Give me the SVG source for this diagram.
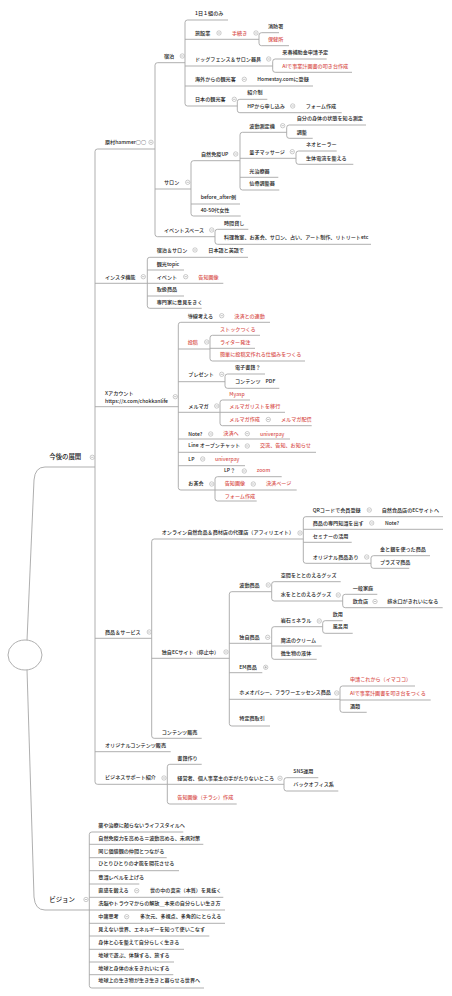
<svg xmlns="http://www.w3.org/2000/svg" width="452" height="996" viewBox="0 0 452 996">
<style>
.t{font-family:"Noto Sans CJK JP","Noto Sans",sans-serif;font-size:5.1px;font-weight:500;fill:#222}
.big{font-size:6.4px}
.r{fill:#d9534f}
.u,.k{fill:none;stroke:#a6a6a6;stroke-width:0.9}
.rt{fill:#fff;stroke:#a6a6a6;stroke-width:0.9}
</style>
<defs>
<g id="mi"><circle r="2.2" fill="#fff" stroke="#999" stroke-width="0.5"/><path d="M-1.2 0H1.2" stroke="#888" stroke-width="0.5"/></g>
<g id="pl"><circle r="2.2" fill="#fff" stroke="#999" stroke-width="0.5"/><path d="M-1.2 0H1.2M0 -1.2V1.2" stroke="#888" stroke-width="0.5"/></g>
</defs>
<rect width="452" height="996" fill="#fff"/>

<g id="connectors" class="k">
<path d="M27 640.5L34 480Q35 467 45 467"/>
<path d="M27 669.5L34 897Q35 910 45 910"/>
<path d="M97.5 149Q95 149 95 151.5V781.8Q95 784.3 97.5 784.3"/>
<path d="M157.5 62.7Q155 62.7 155 65.2V234.2Q155 236.7 157.5 236.7"/>
<path d="M187.5 20Q185 20 185 22.5V103.5Q185 106 187.5 106"/>
<path d="M261.5 32.7Q259 32.7 259 35.2V43.2Q259 45.7 261.5 45.7"/>
<path d="M275.2 59Q272.7 59 272.7 61.5V69.8Q272.7 72.3 275.2 72.3"/>
<path d="M239.8 99.3Q237.3 99.3 237.3 101.8V110.2Q237.3 112.7 239.8 112.7"/>
<path d="M193.5 160.7Q191 160.7 191 163.2V213.5Q191 216 193.5 216"/>
<path d="M242.5 132.3Q240 132.3 240 134.8V187.5Q240 190 242.5 190"/>
<path d="M289.2 125Q286.7 125 286.7 127.5V135.8Q286.7 138.3 289.2 138.3"/>
<path d="M298.5 151Q296 151 296 153.5V161.8Q296 164.3 298.5 164.3"/>
<path d="M217.5 229.3Q215 229.3 215 231.8V241.8Q215 244.3 217.5 244.3"/>
<path d="M149.8 257.3Q147.3 257.3 147.3 259.8V305.8Q147.3 308.3 149.8 308.3"/>
<path d="M180.8 322.3Q178.3 322.3 178.3 324.8V487.5Q178.3 490 180.8 490"/>
<path d="M212.5 335.3Q210 335.3 210 337.8V358.5Q210 361 212.5 361"/>
<path d="M227.5 374Q225 374 225 376.5V385.8Q225 388.3 227.5 388.3"/>
<path d="M222.5 400Q220 400 220 402.5V423.2Q220 425.7 222.5 425.7"/>
<path d="M217.5 476.7Q215 476.7 215 479.2V498.5Q215 501 217.5 501"/>
<path d="M154.2 539Q151.7 539 151.7 541.5V735.8Q151.7 738.3 154.2 738.3"/>
<path d="M305.8 516.7Q303.3 516.7 303.3 519.2V560.8Q303.3 563.3 305.8 563.3"/>
<path d="M373.5 555.7Q371 555.7 371 558.2V565.8Q371 568.3 373.5 568.3"/>
<path d="M231.8 591.7Q229.3 591.7 229.3 594.2V723.5Q229.3 726 231.8 726"/>
<path d="M274.2 581.7Q271.7 581.7 271.7 584.2V598.5Q271.7 601 274.2 601"/>
<path d="M345.2 594.3Q342.7 594.3 342.7 596.8V605.2Q342.7 607.7 345.2 607.7"/>
<path d="M274.2 626.7Q271.7 626.7 271.7 629.2V656.8Q271.7 659.3 274.2 659.3"/>
<path d="M325.2 620.7Q322.7 620.7 322.7 623.2V630.8Q322.7 633.3 325.2 633.3"/>
<path d="M342.5 686Q340 686 340 688.5V709.8Q340 712.3 342.5 712.3"/>
<path d="M169.8 764.3Q167.3 764.3 167.3 766.8V801.5Q167.3 804 169.8 804"/>
<path d="M286.5 777.7Q284 777.7 284 780.2V788.5Q284 791 286.5 791"/>
<path d="M91.8 832Q89.3 832 89.3 834.5V985.5Q89.3 988 91.8 988"/>
</g>

<g id="root"><ellipse class="rt" cx="25" cy="655" rx="17" ry="15"/></g>

<g id="n-kongo"><path class="u" d="M45 467H95"/><text class="t big" x="49.3" y="458.6">今後の展開</text><use href="#mi" x="92.3" y="457.3"/></g>
<g id="n-haramura"><path class="u" d="M97.5 149H155"/><text class="t" x="105" y="144.2">原村hammer○○</text><use href="#mi" x="151" y="142.3"/></g>
<g id="n-shukuhaku"><path class="u" d="M157.5 62.7H185"/><text class="t" x="164" y="57.9">宿泊</text><use href="#mi" x="182.3" y="56"/></g>
<g id="n-1kumi"><path class="u" d="M187.5 20H228"/><text class="t" x="195" y="15.2">1日１組のみ</text></g>
<g id="n-ryokan"><path class="u" d="M185 39.3H259"/><text class="t" x="195" y="34.6">旅館業</text><use href="#mi" x="219" y="33"/><text class="t r" x="232" y="34.6">手続き</text><use href="#mi" x="256" y="33"/></g>
<g id="n-shobo"><path class="u" d="M261.5 32.7H279"/><text class="t" x="268" y="27.9">消防署</text></g>
<g id="n-hoken"><path class="u" d="M261.5 45.7H289"/><text class="t r" x="268" y="40.9">保健所</text></g>
<g id="n-dog"><path class="u" d="M185 66H272.7"/><text class="t" x="195" y="60.9">ドッグフェンス＆サロン器具</text><use href="#mi" x="268.7" y="59"/></g>
<g id="n-hojo"><path class="u" d="M275.2 59H326.7"/><text class="t" x="282.3" y="54.2">来春補助金申請予定</text></g>
<g id="n-ai1"><path class="u" d="M275.2 72.3H352"/><text class="t r" x="282.3" y="67.6">AIで事業計画書の叩き台作成</text></g>
<g id="n-kaigai"><path class="u" d="M185 86H313"/><text class="t" x="195" y="81.2">海外からの観光客</text><use href="#mi" x="244.3" y="79.3"/><text class="t" x="257.3" y="81.2">Homestay.comに登録</text></g>
<g id="n-nihon"><path class="u" d="M187.5 106H237.3"/><text class="t" x="195" y="101.2">日本の観光客</text><use href="#mi" x="234.3" y="99.3"/></g>
<g id="n-shokai"><path class="u" d="M239.8 99.3H267.3"/><text class="t" x="247.3" y="93.9">紹介制</text></g>
<g id="n-hp"><path class="u" d="M239.8 112.7H341.7"/><text class="t" x="247.3" y="107.9">HPから申し込み</text><use href="#mi" x="292.7" y="106"/><text class="t" x="305.7" y="107.9">フォーム作成</text></g>

<g id="n-salon"><path class="u" d="M155 189H191"/><text class="t" x="164" y="184.2">サロン</text><use href="#mi" x="187.7" y="182.3"/></g>
<g id="n-meneki"><path class="u" d="M193.5 160.7H240"/><text class="t" x="201" y="155.9">自然免疫UP</text><use href="#mi" x="235.7" y="154"/></g>
<g id="n-hado"><path class="u" d="M242.5 132.3H286.7"/><text class="t" x="249.3" y="127.6">波動測定機</text><use href="#mi" x="282.7" y="125.7"/></g>
<g id="n-jibun"><path class="u" d="M289.2 125H366"/><text class="t" x="296.7" y="120.2">自分の身体の状態を知る測定</text></g>
<g id="n-chosei"><path class="u" d="M289.2 138.3H312.7"/><text class="t" x="296.7" y="133.6">調整</text></g>
<g id="n-ryoshi"><path class="u" d="M240 158.3H296"/><text class="t" x="249.3" y="153.6">量子マッサージ</text><use href="#mi" x="292.3" y="151.7"/></g>
<g id="n-neo"><path class="u" d="M298.5 151H336.7"/><text class="t" x="306" y="146.2">ネオヒーラー</text></g>
<g id="n-seitai"><path class="u" d="M298.5 164.3H353.3"/><text class="t" x="306" y="159.6">生体電流を整える</text></g>
<g id="n-hikari"><path class="u" d="M240 177.3H278.3"/><text class="t" x="249.3" y="172.6">光治療器</text></g>
<g id="n-senkotsu"><path class="u" d="M242.5 190H279.3"/><text class="t" x="249.3" y="184.9">仙骨調整器</text></g>
<g id="n-before"><path class="u" d="M191 204H240"/><text class="t" x="200.7" y="199.2">before_after例</text></g>
<g id="n-4050"><path class="u" d="M193.5 216H240.7"/><text class="t" x="200.7" y="211.9">40-50代女性</text></g>
<g id="n-event"><path class="u" d="M157.5 236.7H215"/><text class="t" x="164" y="231.9">イベントスペース</text><use href="#mi" x="211.7" y="230"/></g>
<g id="n-jikan"><path class="u" d="M217.5 229.3H248.3"/><text class="t" x="224" y="225.2">時間貸し</text></g>
<g id="n-ryori"><path class="u" d="M217.5 244.3H371"/><text class="t" x="224" y="238.6">料理教室、お茶会、サロン、占い、アート制作、リトリートetc</text></g>

<g id="n-insta"><path class="u" d="M95 283.3H147.3"/><text class="t" x="105" y="278.6">インスタ機能</text><use href="#mi" x="143.3" y="276.7"/></g>
<g id="n-shsalon"><path class="u" d="M149.8 257.3H248"/><text class="t" x="156.7" y="251.9">宿泊＆サロン</text><use href="#mi" x="195" y="250"/><text class="t" x="208.3" y="251.9">日本語と英語で</text></g>
<g id="n-topic"><path class="u" d="M147.3 270H184"/><text class="t" x="156.7" y="265.9">観光topic</text></g>
<g id="n-ievent"><path class="u" d="M147.3 283.3H223.3"/><text class="t" x="156.7" y="278.6">イベント</text><use href="#mi" x="185.7" y="276.7"/><text class="t r" x="198.3" y="278.6">告知画像</text></g>
<g id="n-toriatsu"><path class="u" d="M147.3 296H184"/><text class="t" x="156.7" y="291.2">取扱商品</text></g>
<g id="n-senmon"><path class="u" d="M149.8 308.3H201.7"/><text class="t" x="156.7" y="303.9">専門家に意見をきく</text></g>

<g id="n-x"><path class="u" d="M95 406.7H178.3"/><text class="t" x="105" y="394.6">Xアカウント</text><text class="t" x="105" y="403.2">https://x.com/chokkanlife</text><use href="#mi" x="175.3" y="396.7"/></g>
<g id="n-dosen"><path class="u" d="M180.8 322.3H270"/><text class="t" x="187.7" y="317.6">導線考える</text><use href="#mi" x="221.7" y="315.7"/><text class="t r" x="234.3" y="317.6">決済との連動</text></g>
<g id="n-toko"><path class="u" d="M178.3 349H210"/><text class="t r" x="187.7" y="343.9">投稿</text><use href="#mi" x="206.7" y="342"/></g>
<g id="n-stock"><path class="u" d="M212.5 335.3H260"/><text class="t r" x="220" y="330.6">ストックつくる</text></g>
<g id="n-writer"><path class="u" d="M210 348.3H255"/><text class="t r" x="220" y="343.6">ライター発注</text></g>
<g id="n-kantan"><path class="u" d="M212.5 361H305"/><text class="t r" x="220" y="356.2">簡単に投稿文作れる仕組みをつくる</text></g>
<g id="n-present"><path class="u" d="M178.3 381.7H225"/><text class="t" x="188.3" y="376.2">プレゼント</text><use href="#mi" x="221.7" y="374.3"/></g>
<g id="n-ebook"><path class="u" d="M227.5 374H265"/><text class="t" x="235" y="369.2">電子書籍？</text></g>
<g id="n-pdf"><path class="u" d="M227.5 388.3H279.3"/><text class="t" x="235" y="382.9">コンテンツ　PDF</text></g>
<g id="n-melmaga"><path class="u" d="M178.3 412.3H220"/><text class="t" x="188.3" y="407.6">メルマガ</text><use href="#mi" x="216.7" y="406"/></g>
<g id="n-myasp"><path class="u" d="M222.5 400H250"/><text class="t r" x="229.3" y="396.2">Myasp</text></g>
<g id="n-list"><path class="u" d="M220 412.3H285"/><text class="t r" x="229.3" y="407.6">メルマガリストを移行</text></g>
<g id="n-mmake"><path class="u" d="M222.5 425.7H311.7"/><text class="t r" x="229.3" y="420.9">メルマガ作成</text><use href="#mi" x="268.3" y="419.5"/><text class="t r" x="281" y="420.9">メルマガ配信</text></g>
<g id="n-note"><path class="u" d="M178.3 439H290"/><text class="t" x="188.3" y="435.6">Note?</text><use href="#mi" x="210.7" y="434"/><text class="t r" x="223.3" y="434.9">決済へ</text><use href="#mi" x="247.3" y="433.7"/><text class="t r" x="260" y="435.6">univerpay</text></g>
<g id="n-line"><path class="u" d="M178.3 452.3H316"/><text class="t" x="188.3" y="447.2">Line オープンチャット</text><use href="#mi" x="247.3" y="446"/><text class="t r" x="260" y="447.2">交流、告知、お知らせ</text></g>
<g id="n-lp"><path class="u" d="M178.3 465.7H245"/><text class="t" x="188.3" y="460.9">LP</text><use href="#mi" x="202.7" y="459"/><text class="t r" x="215" y="460.9">univerpay</text></g>
<g id="n-ochakai"><path class="u" d="M180.8 490H215"/><text class="t" x="188.3" y="485.2">お茶会</text><use href="#mi" x="211.7" y="484"/></g>
<g id="n-lp2"><path class="u" d="M217.5 476.7H281.7"/><text class="t" x="224" y="472.2">LP？</text><use href="#mi" x="244.3" y="471"/><text class="t r" x="256.7" y="472.2">zoom</text></g>
<g id="n-kokuchi2"><path class="u" d="M215 490H296.7"/><text class="t r" x="224.7" y="485.2">告知画像</text><use href="#mi" x="253.3" y="484"/><text class="t r" x="266" y="485.2">決済ページ</text></g>
<g id="n-form2"><path class="u" d="M217.5 501H256.7"/><text class="t r" x="224.7" y="497.6">フォーム作成</text></g>

<g id="n-shohin"><path class="u" d="M95 638.3H151.7"/><text class="t" x="105" y="633.6">商品＆サービス</text><use href="#mi" x="149.3" y="632"/></g>
<g id="n-online"><path class="u" d="M154.2 539H303.3"/><text class="t" x="161.7" y="534.2">オンライン自然食品＆商材店の代理店（アフィリエイト）</text><use href="#mi" x="300" y="533"/></g>
<g id="n-qr"><path class="u" d="M305.8 516.7H443"/><text class="t" x="312.7" y="511.9">QRコードで会員登録</text><use href="#mi" x="369.3" y="510"/><text class="t" x="381.7" y="511.9">自然食品店のECサイトへ</text></g>
<g id="n-senmonchishiki"><path class="u" d="M303.3 529.3H443"/><text class="t" x="312.7" y="524.6">商品の専門知識を出す</text><use href="#mi" x="371.7" y="523"/><text class="t" x="385" y="524.6">Note?</text></g>
<g id="n-seminar"><path class="u" d="M303.3 542.3H351.7"/><text class="t" x="312.7" y="537.6">セミナーの活用</text></g>
<g id="n-original"><path class="u" d="M305.8 563.3H371"/><text class="t" x="312.7" y="558.6">オリジナル商品あり</text><use href="#mi" x="366.7" y="557"/></g>
<g id="n-kingin"><path class="u" d="M373.5 555.7H430"/><text class="t" x="380" y="550.9">金と銀を使った商品</text></g>
<g id="n-plasma"><path class="u" d="M373.5 568.3H409.3"/><text class="t" x="380" y="563.6">プラズマ商品</text></g>
<g id="n-ec"><path class="u" d="M151.7 658.3H229.3"/><text class="t" x="161.7" y="653.6">独自ECサイト（停止中）</text><use href="#mi" x="226" y="652"/></g>
<g id="n-hadoshohin"><path class="u" d="M231.8 591.7H271.7"/><text class="t" x="239.3" y="586.9">波動商品</text><use href="#mi" x="268.3" y="585"/></g>
<g id="n-kukan"><path class="u" d="M274.2 581.7H340.7"/><text class="t" x="280.7" y="576.9">空間をととのえるグッズ</text></g>
<g id="n-mizu"><path class="u" d="M274.2 601H342.7"/><text class="t" x="280.7" y="596.2">水をととのえるグッズ</text><use href="#mi" x="338.3" y="595"/></g>
<g id="n-ippan"><path class="u" d="M345.2 594.3H377.3"/><text class="t" x="352.7" y="589.6">一般家庭</text></g>
<g id="n-inshoku"><path class="u" d="M345.2 607.7H442.7"/><text class="t" x="352.7" y="602.9">飲食店</text><use href="#mi" x="375" y="601.5"/><text class="t" x="387.3" y="602.9">排水口がきれいになる</text></g>
<g id="n-dokuji"><path class="u" d="M229.3 643.3H271.7"/><text class="t" x="239.3" y="638.6">独自商品</text><use href="#mi" x="267.7" y="637.3"/></g>
<g id="n-ganseki"><path class="u" d="M274.2 626.7H322.7"/><text class="t" x="280.7" y="621.9">岩石ミネラル</text><use href="#mi" x="319.3" y="621"/></g>
<g id="n-inyo"><path class="u" d="M325.2 620.7H342.7"/><text class="t" x="332.7" y="616.2">飲用</text></g>
<g id="n-furo"><path class="u" d="M325.2 633.3H352.7"/><text class="t" x="332.7" y="627.9">風呂用</text></g>
<g id="n-maho"><path class="u" d="M271.7 646H321.7"/><text class="t" x="280.7" y="641.9">魔法のクリーム</text></g>
<g id="n-biseibutsu"><path class="u" d="M274.2 659.3H316.7"/><text class="t" x="280.7" y="654.6">微生物の液体</text></g>
<g id="n-em"><path class="u" d="M229.3 672.7H262.3"/><text class="t" x="239.3" y="668.6">EM商品</text><use href="#pl" x="265.7" y="667.3"/></g>
<g id="n-homeo"><path class="u" d="M229.3 699.3H340"/><text class="t" x="239.3" y="693.9">ホメオパシー、フラワーエッセンス商品</text><use href="#mi" x="336.7" y="693"/></g>
<g id="n-shinsei"><path class="u" d="M342.5 686H415"/><text class="t r" x="350" y="681.2">申請これから（イマココ）</text></g>
<g id="n-ai2"><path class="u" d="M340 700H430.7"/><text class="t r" x="350" y="694.6">AIで事業計画書を叩き台をつくる</text></g>
<g id="n-sake"><path class="u" d="M342.5 712.3H366.7"/><text class="t" x="350" y="707.6">酒類</text></g>
<g id="n-tokutei"><path class="u" d="M231.8 726H270"/><text class="t" x="239.3" y="720.2">特定商取引</text></g>
<g id="n-contents"><path class="u" d="M154.2 738.3H201.7"/><text class="t" x="161.7" y="733.6">コンテンツ販売</text></g>
<g id="n-origcontents"><path class="u" d="M95 751.7H170.7"/><text class="t" x="105" y="746.9">オリジナルコンテンツ販売</text></g>
<g id="n-business"><path class="u" d="M97.5 784.3H167.3"/><text class="t" x="105" y="779.2">ビジネスサポート紹介</text><use href="#mi" x="164" y="778"/></g>
<g id="n-shoseki"><path class="u" d="M169.8 764.3H201.7"/><text class="t" x="177.3" y="759.6">書籍作り</text></g>
<g id="n-keiei"><path class="u" d="M167.3 784.3H284"/><text class="t" x="177.3" y="779.6">経営者、個人事業主の手がたりないところ</text><use href="#mi" x="280" y="778.3"/></g>
<g id="n-sns"><path class="u" d="M286.5 777.7H318.3"/><text class="t" x="293.3" y="772.6">SNS運用</text></g>
<g id="n-back"><path class="u" d="M286.5 791H338.3"/><text class="t" x="293.3" y="786.2">バックオフィス系</text></g>
<g id="n-chirashi"><path class="u" d="M169.8 804H236.7"/><text class="t r" x="177.3" y="799.2">告知画像（チラシ）作成</text></g>

<g id="n-vision"><path class="u" d="M45 910H89.3"/><text class="t big" x="49.3" y="901.8">ビジョン</text><use href="#mi" x="86" y="899.5"/></g>
<g id="v1"><path class="u" d="M91.8 832H183.3"/><text class="t" x="98.3" y="826.9">薬や治療に頼らないライフスタイルへ</text></g>
<g id="v2"><path class="u" d="M89.3 844.3H203.3"/><text class="t" x="98.3" y="839.6">自然免疫力を高める＝波動高める、未病対策</text></g>
<g id="v3"><path class="u" d="M89.3 857.7H166.7"/><text class="t" x="98.3" y="852.9">同じ価値観の仲間とつながる</text></g>
<g id="v4"><path class="u" d="M89.3 870.7H179"/><text class="t" x="98.3" y="865.2">ひとりひとりの才能を開花させる</text></g>
<g id="v5"><path class="u" d="M89.3 884H139.3"/><text class="t" x="98.3" y="878.6">意識レベルを上げる</text></g>
<g id="v6"><path class="u" d="M89.3 897.3H223.3"/><text class="t" x="98.3" y="891.9">直感を鍛える</text><use href="#mi" x="136.7" y="890.7"/><text class="t" x="150" y="891.9">世の中の真実（本質）を見抜く</text></g>
<g id="v7"><path class="u" d="M89.3 910H225"/><text class="t" x="98.3" y="904.6">洗脳やトラウマからの解放＿本来の自分らしい生き方</text></g>
<g id="v8"><path class="u" d="M89.3 923.3H225"/><text class="t" x="98.3" y="917.6">中庸思考</text><use href="#mi" x="126.7" y="916.7"/><text class="t" x="140" y="917.6">多次元、多視点、多角的にとらえる</text></g>
<g id="v9"><path class="u" d="M89.3 936H209.3"/><text class="t" x="98.3" y="930.9">見えない世界、エネルギーを知って使いこなす</text></g>
<g id="v10"><path class="u" d="M89.3 949.3H184"/><text class="t" x="98.3" y="943.9">身体と心を整えて自分らしく生きる</text></g>
<g id="v11"><path class="u" d="M89.3 962H174"/><text class="t" x="98.3" y="956.6">地球で遊ぶ、体験する、旅する</text></g>
<g id="v12"><path class="u" d="M89.3 974.7H173.3"/><text class="t" x="98.3" y="969.9">地球と身体の水をきれいにする</text></g>
<g id="v13"><path class="u" d="M91.8 988H204"/><text class="t" x="98.3" y="982.2">地球上の生き物が生き生きと暮らせる世界へ</text></g>
</svg>
